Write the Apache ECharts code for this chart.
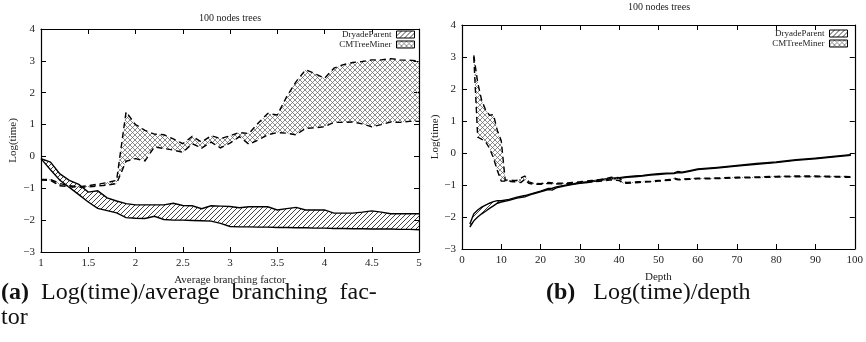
<!DOCTYPE html>
<html><head><meta charset="utf-8">
<script src="https://cdn.jsdelivr.net/npm/echarts@6/dist/echarts.min.js"></script>
<style>html,body{margin:0;padding:0;background:#fff}#c{width:866px;height:342px}</style>
</head><body><div id="c"></div>
<script>
// ---- data: panel (a) Log(time) vs average branching factor ----
const branching = [1.0,1.1,1.2,1.3,1.4,1.5,1.6,1.7,1.8,1.9,2.0,2.1,2.2,2.3,2.4,2.5,2.6,2.7,2.8,2.9,3.0,3.1,3.2,3.3,3.4,3.5,3.6,3.7,3.8,3.9,4.0,4.1,4.2,4.3,4.4,4.5,4.6,4.7,4.8,4.9,5.0];
const dryadeBranchHigh = [-0.07,-0.18,-0.55,-0.75,-0.88,-1.12,-1.08,-1.3,-1.4,-1.48,-1.52,-1.52,-1.52,-1.52,-1.47,-1.54,-1.55,-1.64,-1.55,-1.56,-1.57,-1.61,-1.58,-1.58,-1.58,-1.68,-1.64,-1.6,-1.68,-1.68,-1.68,-1.78,-1.78,-1.78,-1.75,-1.71,-1.75,-1.8,-1.8,-1.8,-1.8];
const dryadeBranchLow = [-0.07,-0.42,-0.75,-0.97,-1.2,-1.43,-1.63,-1.7,-1.77,-1.92,-1.94,-1.95,-1.88,-1.98,-2.0,-2.0,-2.01,-2.02,-2.03,-2.1,-2.2,-2.21,-2.21,-2.22,-2.22,-2.23,-2.23,-2.24,-2.24,-2.25,-2.25,-2.26,-2.26,-2.27,-2.27,-2.28,-2.28,-2.28,-2.29,-2.29,-2.3];
const cmBranchHigh = [-0.72,-0.72,-0.85,-0.92,-0.95,-0.92,-0.87,-0.82,-0.75,1.4,1.0,0.82,0.7,0.68,0.55,0.4,0.63,0.45,0.65,0.56,0.65,0.75,0.72,1.05,1.35,1.3,1.88,2.35,2.72,2.6,2.45,2.77,2.88,2.95,2.98,3.03,3.03,3.07,3.03,3.02,3.0];
const cmBranchLow = [-0.74,-0.75,-0.92,-0.95,-0.97,-0.96,-0.93,-0.9,-0.85,-0.15,-0.07,-0.14,0.3,0.25,0.2,0.13,0.4,0.26,0.45,0.27,0.42,0.62,0.38,0.52,0.68,0.75,0.73,0.68,0.88,0.9,0.93,1.07,1.07,1.08,1.02,0.93,1.0,1.08,1.07,1.1,1.1];

// ---- data: panel (b) Log(time) vs depth ----
const depthDryade = [2,3,4,5,6,7,8,9,10,12,14,16,18,20,22,23,24,26,28,30,32,34,36,38,40,42,44,46,48,50,52,54,55,56,58,60,65,70,75,80,85,90,95,99];
const dryadeDepthHigh = [-2.22,-1.9,-1.78,-1.69,-1.63,-1.57,-1.52,-1.49,-1.49,-1.45,-1.38,-1.33,-1.26,-1.19,-1.11,-1.1,-1.06,-1.01,-0.97,-0.93,-0.9,-0.86,-0.82,-0.79,-0.77,-0.74,-0.72,-0.7,-0.67,-0.65,-0.63,-0.62,-0.58,-0.6,-0.55,-0.5,-0.45,-0.39,-0.33,-0.28,-0.21,-0.16,-0.1,-0.05];
const dryadeDepthLow = [-2.32,-2.12,-2.0,-1.9,-1.82,-1.73,-1.65,-1.57,-1.53,-1.48,-1.41,-1.37,-1.28,-1.21,-1.14,-1.16,-1.09,-1.03,-0.99,-0.95,-0.92,-0.88,-0.84,-0.81,-0.79,-0.76,-0.74,-0.72,-0.69,-0.67,-0.65,-0.64,-0.61,-0.62,-0.57,-0.52,-0.47,-0.41,-0.35,-0.3,-0.23,-0.18,-0.12,-0.07];
const depthCm = [3,4,5,6,7,8,9,10,11,12,13,14,15,16,17,18,20,22,24,26,28,30,33,36,38,40,41,42,45,48,50,53,54,55,58,60,65,70,75,80,85,90,95,99];
const cmDepthHigh = [3.05,2.2,1.65,1.35,1.18,1.2,0.7,0.38,-0.85,-0.84,-0.86,-0.85,-0.78,-0.72,-0.9,-0.94,-0.96,-0.92,-0.94,-0.94,-0.92,-0.9,-0.86,-0.82,-0.76,-0.77,-0.9,-0.92,-0.9,-0.88,-0.86,-0.83,-0.78,-0.82,-0.8,-0.79,-0.78,-0.76,-0.75,-0.73,-0.72,-0.72,-0.73,-0.74];
const cmDepthLow = [3.0,0.5,0.43,0.35,0.15,-0.15,-0.55,-0.88,-0.88,-0.88,-0.9,-0.9,-0.92,-0.82,-0.95,-0.97,-0.98,-0.95,-0.97,-0.96,-0.95,-0.93,-0.9,-0.87,-0.84,-0.86,-0.95,-0.95,-0.92,-0.9,-0.88,-0.85,-0.81,-0.84,-0.82,-0.81,-0.8,-0.78,-0.77,-0.75,-0.74,-0.74,-0.75,-0.76];

const seriesNames = ['DryadeParent','CMTreeMiner'];
const chartTitle = '100 nodes trees';
const yName = 'Log(time)';

// ---- hatch patterns ----
function hatch(size, color, lw, cross) {
  const c = document.createElement('canvas');
  c.width = size; c.height = size;
  const g = c.getContext('2d');
  g.strokeStyle = color; g.lineWidth = lw;
  g.beginPath();
  for (const k of [-size, 0, size]) {
    g.moveTo(k, size); g.lineTo(k + size, 0);
    if (cross) { g.moveTo(k, 0); g.lineTo(k + size, size); }
  }
  g.stroke();
  return { image: c, repeat: 'repeat' };
}
const dryadeFill = hatch(5, '#111', 0.8, false);
const cmFill = hatch(5, '#666', 0.75, true);

const FONT = 'Liberation Serif';

function band(name, axisIdx, xs, hi, lo, fill, dashed) {
  return {
    type: 'custom', name: name,
    xAxisIndex: axisIdx, yAxisIndex: axisIdx,
    coordinateSystem: 'cartesian2d',
    data: [[xs[0], hi[0]]],
    encode: { x: 0, y: 1 },
    itemStyle: { color: fill, borderColor: '#000', borderWidth: 1 },
    silent: true, animation: false,
    renderItem: function (params, api) {
      const hp = xs.map((x, i) => api.coord([x, hi[i]]));
      const lp = xs.map((x, i) => api.coord([x, lo[i]]));
      const poly = hp.concat(lp.slice().reverse());
      const ls = { stroke: '#000', lineWidth: 1.4, fill: 'none', lineDash: dashed ? [6, 4] : null };
      return { type: 'group', children: [
        { type: 'polygon', shape: { points: poly }, style: { fill: fill, stroke: 'none' } },
        { type: 'polyline', shape: { points: hp }, style: ls },
        { type: 'polyline', shape: { points: lp }, style: ls }
      ]};
    }
  };
}

const tickStyle = { show: true, inside: true, length: 5, lineStyle: { color: '#000' } };
const axLine = { show: true, onZero: false, lineStyle: { color: '#000', width: 1.2 } };
const lblStyle = { fontFamily: FONT, fontSize: 11, color: '#222' };
const minus = v => (v < 0 ? '\u2212' + Math.abs(v) : String(v));

function xAx(grid, min, max, interval, name, pos) {
  const bottom = pos === 'bottom';
  return {
    type: 'value', gridIndex: grid, position: pos, min, max, interval,
    axisLine: axLine, axisTick: tickStyle, splitLine: { show: false },
    axisLabel: bottom ? Object.assign({ margin: 6, formatter: v => String(v) }, lblStyle) : { show: false },
    name: bottom ? name : '', nameLocation: 'middle', nameGap: 23,
    nameTextStyle: { fontFamily: FONT, fontSize: 11, color: '#222' }
  };
}
function yAx(grid, pos, gap) {
  const left = pos === 'left';
  return {
    type: 'value', gridIndex: grid, position: pos, min: -3, max: 4, interval: 1,
    axisLine: axLine, axisTick: tickStyle, splitLine: { show: false },
    axisLabel: left ? Object.assign({ margin: 6, formatter: minus }, lblStyle) : { show: false },
    name: left ? yName : '', nameLocation: 'middle', nameGap: gap,
    nameTextStyle: { fontFamily: FONT, fontSize: 11, color: '#222' }
  };
}
function legendAt(right, top) {
  return { data: seriesNames, orient: 'vertical', right: right, top: top, align: 'right', icon: 'rect',
    itemWidth: 18, itemHeight: 7, itemGap: 1,
    itemStyle: { borderColor: '#000', borderWidth: 1 },
    textStyle: { fontFamily: FONT, fontSize: 9, color: '#222', width: 62, align: 'right', overflow: 'none' },
    selectedMode: false };
}

const chart = echarts.init(document.getElementById('c'), null, { renderer: 'canvas' });
chart.setOption({
  animation: false,
  backgroundColor: '#fff',
  title: [
    { text: chartTitle, left: 230, top: 13, textAlign: 'center', padding: 0,
      textStyle: { fontFamily: FONT, fontSize: 10, fontWeight: 'normal', color: '#222' } },
    { text: chartTitle, left: 659, top: 2, textAlign: 'center', padding: 0,
      textStyle: { fontFamily: FONT, fontSize: 10, fontWeight: 'normal', color: '#222' } }
  ],
  legend: [ legendAt(446, 25), legendAt(13, 24) ],
  grid: [
    { left: 41, top: 29, width: 378, height: 223 },
    { left: 462, top: 25, width: 394, height: 224 }
  ],
  xAxis: [
    xAx(0, 1, 5, 0.5, 'Average branching factor', 'bottom'),
    xAx(1, 0, 100, 10, 'Depth', 'bottom'),
    xAx(0, 1, 5, 0.5, '', 'top'),
    xAx(1, 0, 100, 10, '', 'top')
  ],
  yAxis: [
    yAx(0, 'left', 22), yAx(1, 'left', 19), yAx(0, 'right', 0), yAx(1, 'right', 0)
  ],
  series: [
    band(seriesNames[0], 0, branching, dryadeBranchHigh, dryadeBranchLow, dryadeFill, false),
    band(seriesNames[1], 0, branching, cmBranchHigh, cmBranchLow, cmFill, true),
    band(seriesNames[0], 1, depthDryade, dryadeDepthHigh, dryadeDepthLow, dryadeFill, false),
    band(seriesNames[1], 1, depthCm, cmDepthHigh, cmDepthLow, cmFill, true)
  ],
  graphic: [
    { type: 'text', left: 1, top: 281,
      style: { text: '{b|(a)}  Log(time)/average  branching  fac-', font: '24px "Liberation Serif"', fill: '#111',
        rich: { b: { fontWeight: 'bold', fontSize: 24, fontFamily: FONT } } } },
    { type: 'text', left: 1, top: 306,
      style: { text: 'tor', font: '24px "Liberation Serif"', fill: '#111' } },
    { type: 'text', left: 546, top: 281,
      style: { text: '{b|(b)}   Log(time)/depth', font: '24px "Liberation Serif"', fill: '#111',
        rich: { b: { fontWeight: 'bold', fontSize: 24, fontFamily: FONT } } } }
  ]
});
</script>
</body></html>
